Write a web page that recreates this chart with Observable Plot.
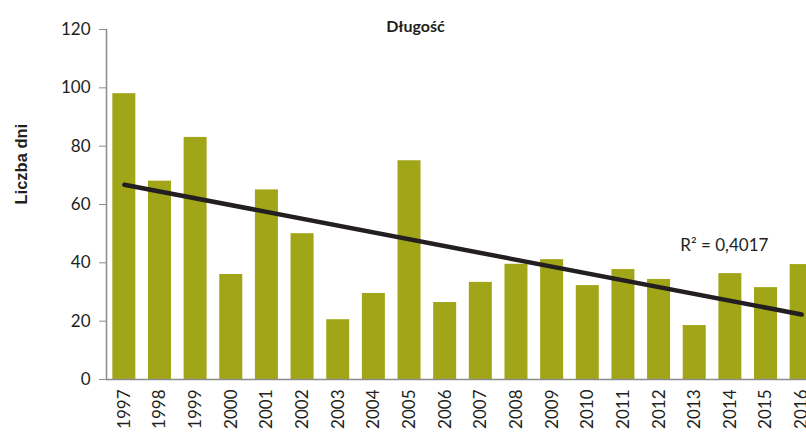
<!DOCTYPE html>
<html><head><meta charset="utf-8">
<script src="https://cdn.jsdelivr.net/npm/d3@7"></script>
<script src="https://cdn.jsdelivr.net/npm/@observablehq/plot@0.6"></script>
<style>body{margin:0;background:#fff;} svg{overflow:hidden;}</style>
</head><body><div id="chart"></div>
<script>
const years = ["1997","1998","1999","2000","2001","2002","2003","2004","2005","2006","2007","2008","2009","2010","2011","2012","2013","2014","2015","2016"];
const days = [98,68,83,36,65,50,20.5,29.5,75,26.4,33.3,39.5,41.1,32.2,37.7,34.3,18.5,36.3,31.5,39.4];
const trendYears = ["1997","2016"];
const trendValues = [66.8,22.3];
const yTicks = [0,20,40,60,80,100,120];
const title = "Długość";
const yLabel = "Liczba dni";
const r2Label = "R² = 0,4017";

const bars = years.map((y,i)=>({year:y, value:days[i]}));
const trend = trendYears.map((y,i)=>({year:y, value:trendValues[i]}));

const chart = Plot.plot({
  width: 806, height: 432,
  marginLeft: 106, marginRight: 0, marginTop: 29, marginBottom: 53,
  style: {fontFamily: "Lato, sans-serif", color: "#231f20", background: "#fff"},
  x: {type: "band", domain: years, range: [106, 819], round: false, paddingInner: 0.355, paddingOuter: 0.1775, label: null},
  y: {domain: [0,120], label: null},
  marks: [
    Plot.barY(bars, {x: "year", y: "value", fill: "#a0a617"}),
    Plot.ruleY([0], {stroke: "#8c8c8c", strokeWidth: 1.5}),
    Plot.frame({anchor: "left", stroke: "#8c8c8c", strokeWidth: 1.5}),
    Plot.axisY({ticks: yTicks, tickSize: 7, tickPadding: 9, stroke: "#8c8c8c", fontSize: 17, label: null}),
    Plot.axisX({tickSize: 0, tickRotate: -90, tickPadding: 10, fontSize: 17, label: null}),
    Plot.line(trend, {x: "year", y: "value", stroke: "#231f20", strokeWidth: 4.5}),
    Plot.text([r2Label], {x: () => "2014", y: () => 46, fontSize: 17, fill: "#231f20", dx: -6}),
    Plot.text([title], {frameAnchor: "top", dx: -41, dy: -9, fontWeight: "bold", fontSize: 16, fill: "#231f20"}),
    Plot.text([yLabel], {frameAnchor: "left", y: () => 60, rotate: -90, dx: -85, fontWeight: "bold", fontSize: 16.5, fontFamily: "'Liberation Sans', Arial, sans-serif", fill: "#231f20"})
  ]
});
document.getElementById("chart").appendChild(chart);
</script>
</body></html>
